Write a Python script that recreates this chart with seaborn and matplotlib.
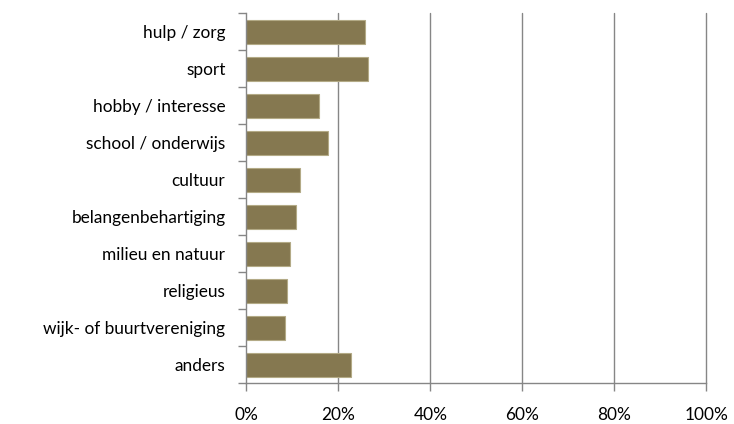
import numpy as np
import pandas as pd
import matplotlib
matplotlib.use("Agg")
import matplotlib.pyplot as plt
import seaborn as sns
from matplotlib.ticker import PercentFormatter, FixedLocator

sns.set_style("white")
plt.rcParams['font.family'] = ['Lato', 'DejaVu Sans']

# === Data ===
categories = [
    'hulp / zorg', 'sport', 'hobby / interesse', 'school / onderwijs',
    'cultuur', 'belangenbehartiging', 'milieu en natuur', 'religieus',
    'wijk- of buurtvereniging', 'anders',
]
values = [25.8, 26.5, 15.7, 17.8, 11.7, 10.7, 9.6, 8.9, 8.3, 22.7]

df = pd.DataFrame({'categorie': categories, 'pct': values})

bar_color = '#857850'
grid_color = '#868686'

fig = plt.figure(figsize=(7.34, 4.24), dpi=100)
ax = fig.add_axes([0.3356, 0.096, 0.6267, 0.8726])

sns.barplot(data=df, x='pct', y='categorie', orient='h', color=bar_color,
            width=0.65, edgecolor='#b3aa86', linewidth=0.8, saturation=1,
            ax=ax, zorder=3)

ax.set_xlim(0, 100)
ax.set_ylim(len(categories) - 0.5, -0.5)
ax.xaxis.set_major_locator(FixedLocator([0, 20, 40, 60, 80, 100]))
ax.xaxis.set_major_formatter(PercentFormatter(decimals=0))

# Excel-style gridlines en assen
for xv in [20, 40, 60, 80, 100]:
    ax.axvline(xv, color=grid_color, linewidth=1, zorder=1, clip_on=False)

for side in ['top', 'right']:
    ax.spines[side].set_visible(False)
for side in ['left', 'bottom']:
    ax.spines[side].set_color(grid_color)
    ax.spines[side].set_linewidth(1)
    ax.spines[side].set_zorder(4)

# tick marks op de grenzen tussen categorieën
ax.set_yticks(np.arange(-0.5, len(categories), 1), minor=True)
ax.tick_params(axis='y', which='major', left=True, length=0, pad=15,
               labelsize=12.4, labelcolor='black')
ax.tick_params(axis='y', which='minor', left=True, length=6, width=1,
               color=grid_color, direction='out')
ax.tick_params(axis='x', which='major', bottom=True, length=6, width=1,
               color=grid_color, direction='out', pad=11, labelsize=12.4,
               labelcolor='black')

ax.set_xlabel('')
ax.set_ylabel('')

plt.savefig('out.png', dpi=100)
